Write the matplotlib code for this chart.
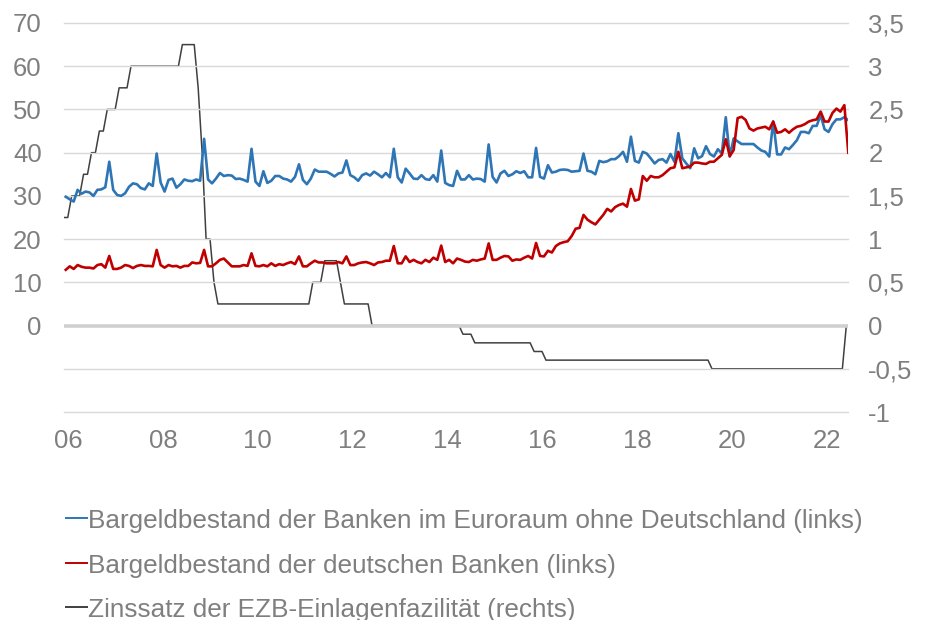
import matplotlib
matplotlib.use("Agg")
import matplotlib.pyplot as plt
from matplotlib.lines import Line2D

# =========================
# DATA (monthly, Jan 2006 = 0)
# =========================
# Bargeldbestand der Banken im Euroraum ohne Deutschland (links)
euro_ex_de = [
    29.8, 29.2, 28.7, 31.4, 30.5, 31.0, 30.8, 30.0, 31.4, 31.5, 32.0, 37.9,  # 2006
    31.4, 30.2, 30.0, 30.6, 32.1, 32.9, 32.7, 31.8, 31.5, 32.9, 32.3, 39.8,  # 2007
    33.1, 31.0, 33.7, 34.0, 31.9, 32.7, 33.8, 33.5, 33.4, 33.8, 33.5, 43.2,  # 2008
    33.8, 32.9, 34.0, 35.3, 34.6, 34.8, 34.7, 33.9, 34.0, 33.7, 33.3, 40.9,  # 2009
    33.3, 32.3, 35.7, 33.0, 33.5, 34.6, 34.6, 34.0, 33.8, 33.3, 34.4, 37.3,  # 2010
    33.7, 32.7, 34.0, 36.1, 35.6, 35.6, 35.6, 35.1, 34.5, 35.2, 35.4, 38.2,  # 2011
    34.8, 34.3, 33.5, 34.8, 35.2, 34.7, 35.6, 35.0, 34.3, 35.3, 34.3, 40.9,  # 2012
    34.3, 33.1, 36.3, 35.2, 34.0, 33.9, 34.8, 33.9, 33.7, 34.8, 33.3, 40.5,  # 2013
    33.0, 32.5, 32.3, 35.8, 33.8, 33.8, 34.8, 33.8, 34.0, 33.9, 33.3, 41.9,  # 2014
    34.4, 33.1, 35.2, 35.8, 34.6, 35.0, 35.7, 35.3, 35.7, 34.3, 34.3, 41.1,  # 2015
    34.4, 34.0, 37.1, 35.4, 35.6, 36.0, 36.1, 36.0, 35.6, 35.7, 35.8, 39.8,  # 2016
    35.8, 35.6, 35.0, 38.1, 37.8, 38.0, 38.5, 38.5, 39.2, 40.2, 37.9, 43.7,  # 2017
    38.1, 37.7, 40.2, 39.8, 38.7, 37.5, 38.3, 38.5, 37.7, 39.7, 37.9, 44.5,  # 2018
    38.7, 37.5, 36.4, 41.0, 38.7, 39.2, 41.5, 39.7, 39.1, 40.8, 39.8, 48.2,  # 2019
    39.1, 43.3, 42.6, 42.0, 42.0, 42.0, 42.0, 41.2, 40.5, 40.2, 39.1, 47.2,  # 2020
    39.6, 39.6, 41.2, 40.8, 41.8, 42.9, 44.8, 44.8, 44.5, 46.2, 46.2, 48.7,  # 2021
    45.4, 44.8, 46.6, 47.7, 47.7, 48.2, 47.5,                                # 2022
]

# Bargeldbestand der deutschen Banken (links)
german_banks = [
    12.9, 13.7, 13.1, 14.0, 13.6, 13.4, 13.4, 13.2, 14.0, 14.2, 13.4, 16.1,  # 2006
    13.1, 13.1, 13.4, 14.0, 13.8, 13.3, 13.8, 14.0, 13.8, 13.8, 13.7, 17.5,  # 2007
    14.0, 13.4, 14.0, 13.7, 13.8, 13.4, 13.8, 13.8, 14.6, 14.4, 14.5, 17.5,  # 2008
    13.7, 13.7, 14.4, 15.2, 15.5, 14.6, 13.7, 13.7, 13.7, 14.0, 13.8, 16.7,  # 2009
    13.8, 13.7, 14.0, 13.7, 14.4, 13.8, 14.2, 14.0, 14.4, 14.7, 14.2, 16.0,  # 2010
    13.7, 13.7, 14.4, 15.0, 14.6, 14.6, 14.4, 14.4, 14.4, 14.7, 14.4, 16.0,  # 2011
    14.0, 14.0, 14.4, 14.6, 14.7, 14.4, 14.0, 14.6, 14.7, 15.0, 15.0, 18.4,  # 2012
    14.4, 14.4, 16.0, 14.7, 15.2, 14.7, 14.4, 15.2, 14.7, 15.7, 15.2, 18.5,  # 2013
    14.7, 15.2, 14.4, 15.5, 15.2, 14.8, 14.7, 15.2, 15.0, 15.3, 15.5, 19.0,  # 2014
    15.2, 15.2, 15.7, 16.1, 16.0, 15.0, 15.3, 15.2, 15.7, 16.1, 15.5, 19.1,  # 2015
    16.1, 16.0, 17.3, 16.9, 18.4, 19.0, 19.3, 19.5, 20.7, 22.4, 22.6, 25.6,  # 2016
    24.5, 23.9, 23.4, 24.5, 25.6, 27.0, 26.4, 27.4, 27.9, 28.2, 27.5, 31.6,  # 2017
    28.9, 29.2, 34.6, 33.5, 34.6, 34.3, 34.3, 34.8, 35.6, 36.4, 36.6, 40.2,  # 2018
    36.4, 36.6, 36.8, 37.7, 37.7, 37.5, 37.4, 37.9, 37.9, 38.7, 39.5, 43.1,  # 2019
    39.2, 40.6, 48.0, 48.3, 47.6, 45.6, 45.1, 45.6, 45.8, 46.0, 45.4, 47.2,  # 2020
    44.6, 44.8, 45.4, 44.6, 45.4, 46.0, 46.2, 46.6, 47.2, 47.5, 47.7, 49.5,  # 2021
    47.2, 47.2, 49.2, 50.2, 49.5, 51.0, 40.0,                                # 2022
]

# Zinssatz der EZB-Einlagenfazilitaet (rechts), Monatsende
ecb_rate = [
    1.25, 1.25, 1.5, 1.5, 1.5, 1.75, 1.75, 2.0, 2.0, 2.25, 2.25, 2.5,        # 2006
    2.5, 2.5, 2.75, 2.75, 2.75, 3.0, 3.0, 3.0, 3.0, 3.0, 3.0, 3.0,           # 2007
    3.0, 3.0, 3.0, 3.0, 3.0, 3.0, 3.25, 3.25, 3.25, 3.25, 2.75, 2.0,         # 2008
    1.0, 1.0, 0.5, 0.25, 0.25, 0.25, 0.25, 0.25, 0.25, 0.25, 0.25, 0.25,     # 2009
    0.25, 0.25, 0.25, 0.25, 0.25, 0.25, 0.25, 0.25, 0.25, 0.25, 0.25, 0.25,  # 2010
    0.25, 0.25, 0.25, 0.5, 0.5, 0.5, 0.75, 0.75, 0.75, 0.75, 0.5, 0.25,      # 2011
    0.25, 0.25, 0.25, 0.25, 0.25, 0.25, 0.0, 0.0, 0.0, 0.0, 0.0, 0.0,        # 2012
    0.0, 0.0, 0.0, 0.0, 0.0, 0.0, 0.0, 0.0, 0.0, 0.0, 0.0, 0.0,              # 2013
    0.0, 0.0, 0.0, 0.0, 0.0, -0.1, -0.1, -0.1, -0.2, -0.2, -0.2, -0.2,       # 2014
    -0.2, -0.2, -0.2, -0.2, -0.2, -0.2, -0.2, -0.2, -0.2, -0.2, -0.2, -0.3,  # 2015
    -0.3, -0.3, -0.4, -0.4, -0.4, -0.4, -0.4, -0.4, -0.4, -0.4, -0.4, -0.4,  # 2016
    -0.4, -0.4, -0.4, -0.4, -0.4, -0.4, -0.4, -0.4, -0.4, -0.4, -0.4, -0.4,  # 2017
    -0.4, -0.4, -0.4, -0.4, -0.4, -0.4, -0.4, -0.4, -0.4, -0.4, -0.4, -0.4,  # 2018
    -0.4, -0.4, -0.4, -0.4, -0.4, -0.4, -0.4, -0.4, -0.5, -0.5, -0.5, -0.5,  # 2019
    -0.5, -0.5, -0.5, -0.5, -0.5, -0.5, -0.5, -0.5, -0.5, -0.5, -0.5, -0.5,  # 2020
    -0.5, -0.5, -0.5, -0.5, -0.5, -0.5, -0.5, -0.5, -0.5, -0.5, -0.5, -0.5,  # 2021
    -0.5, -0.5, -0.5, -0.5, -0.5, -0.5, 0.0,                                 # 2022
]

year_labels = ["06", "08", "10", "12", "14", "16", "18", "20", "22"]
left_ticks = [0, 10, 20, 30, 40, 50, 60, 70]
right_ticks = [-1, -0.5, 0, 0.5, 1, 1.5, 2, 2.5, 3, 3.5]

legend_labels = [
    "Bargeldbestand der Banken im Euroraum ohne Deutschland (links)",
    "Bargeldbestand der deutschen Banken (links)",
    "Zinssatz der EZB-Einlagenfazilität (rechts)",
]

BLUE = "#2E75B6"
RED = "#C00000"
DARK = "#404040"
GREY_TXT = "#7F7F7F"
GRID = "#D9D9D9"

plt.rcParams["font.family"] = ["Liberation Sans", "DejaVu Sans"]

# =========================
# FIGURE
# =========================
W, H = 932, 620
fig = plt.figure(figsize=(W / 100, H / 100), dpi=100)

ax_l, ax_r_px, ax_t, ax_b = 63.8, 848.3, 23, 412
ax = fig.add_axes([ax_l / W, 1 - ax_b / H, (ax_r_px - ax_l) / W, (ax_b - ax_t) / H])

months = list(range(len(euro_ex_de)))
# rate series is plotted half a month earlier (end-of-month values)
rate_x = [m - 0.5 for m in range(len(ecb_rate))]

ax.set_xlim(-0.5, 198)
ax.set_ylim(-20, 70)

# gridlines
for v in range(-20, 71, 10):
    if v == 0:
        continue
    ax.axhline(v, color=GRID, lw=1.0, zorder=0, clip_on=False)
ax.axhline(0, color="#D0D0D0", lw=2.6, zorder=0)

ax.plot(months, euro_ex_de, color=BLUE, lw=1.9, zorder=3, solid_joinstyle="round")
ax.plot(months, german_banks, color=RED, lw=1.9, zorder=4, solid_joinstyle="round")

ax2 = ax.twinx()
ax2.set_ylim(-1, 3.5)
ax2.plot(rate_x, ecb_rate, color=DARK, lw=1.1, zorder=2)

# ticks
ax.set_xticks([24 * i + 0.6 for i in range(len(year_labels))])
ax.set_xticklabels(year_labels)
ax.set_yticks(left_ticks)
ax.set_yticklabels([str(t) for t in left_ticks])
ax2.set_yticks(right_ticks)
ax2.set_yticklabels([("%g" % t).replace(".", ",") for t in right_ticks])

for a in (ax, ax2):
    for s in a.spines.values():
        s.set_visible(False)
    a.tick_params(length=0, labelsize=18.5, colors=GREY_TXT)
ax.tick_params(axis="x", pad=12)
ax.tick_params(axis="y", pad=15.8)
ax2.tick_params(axis="y", pad=14.4)
ax.set_zorder(ax2.get_zorder() + 1)
ax.patch.set_visible(False)

# legend (manual, one entry per row)
legend_colors = [BLUE, RED, DARK]
legend_y = [518.3, 563.3, 607.3]
for lab, col, y in zip(legend_labels, legend_colors, legend_y):
    yy = 1 - y / H
    fig.add_artist(Line2D([66 / W, 87 / W], [yy, yy], color=col, lw=1.4,
                          transform=fig.transFigure))
    fig.text(88.5 / W, yy, lab, color=GREY_TXT, fontsize=18.8,
             va="center_baseline", ha="left")

fig.savefig("out.png", dpi=100)
